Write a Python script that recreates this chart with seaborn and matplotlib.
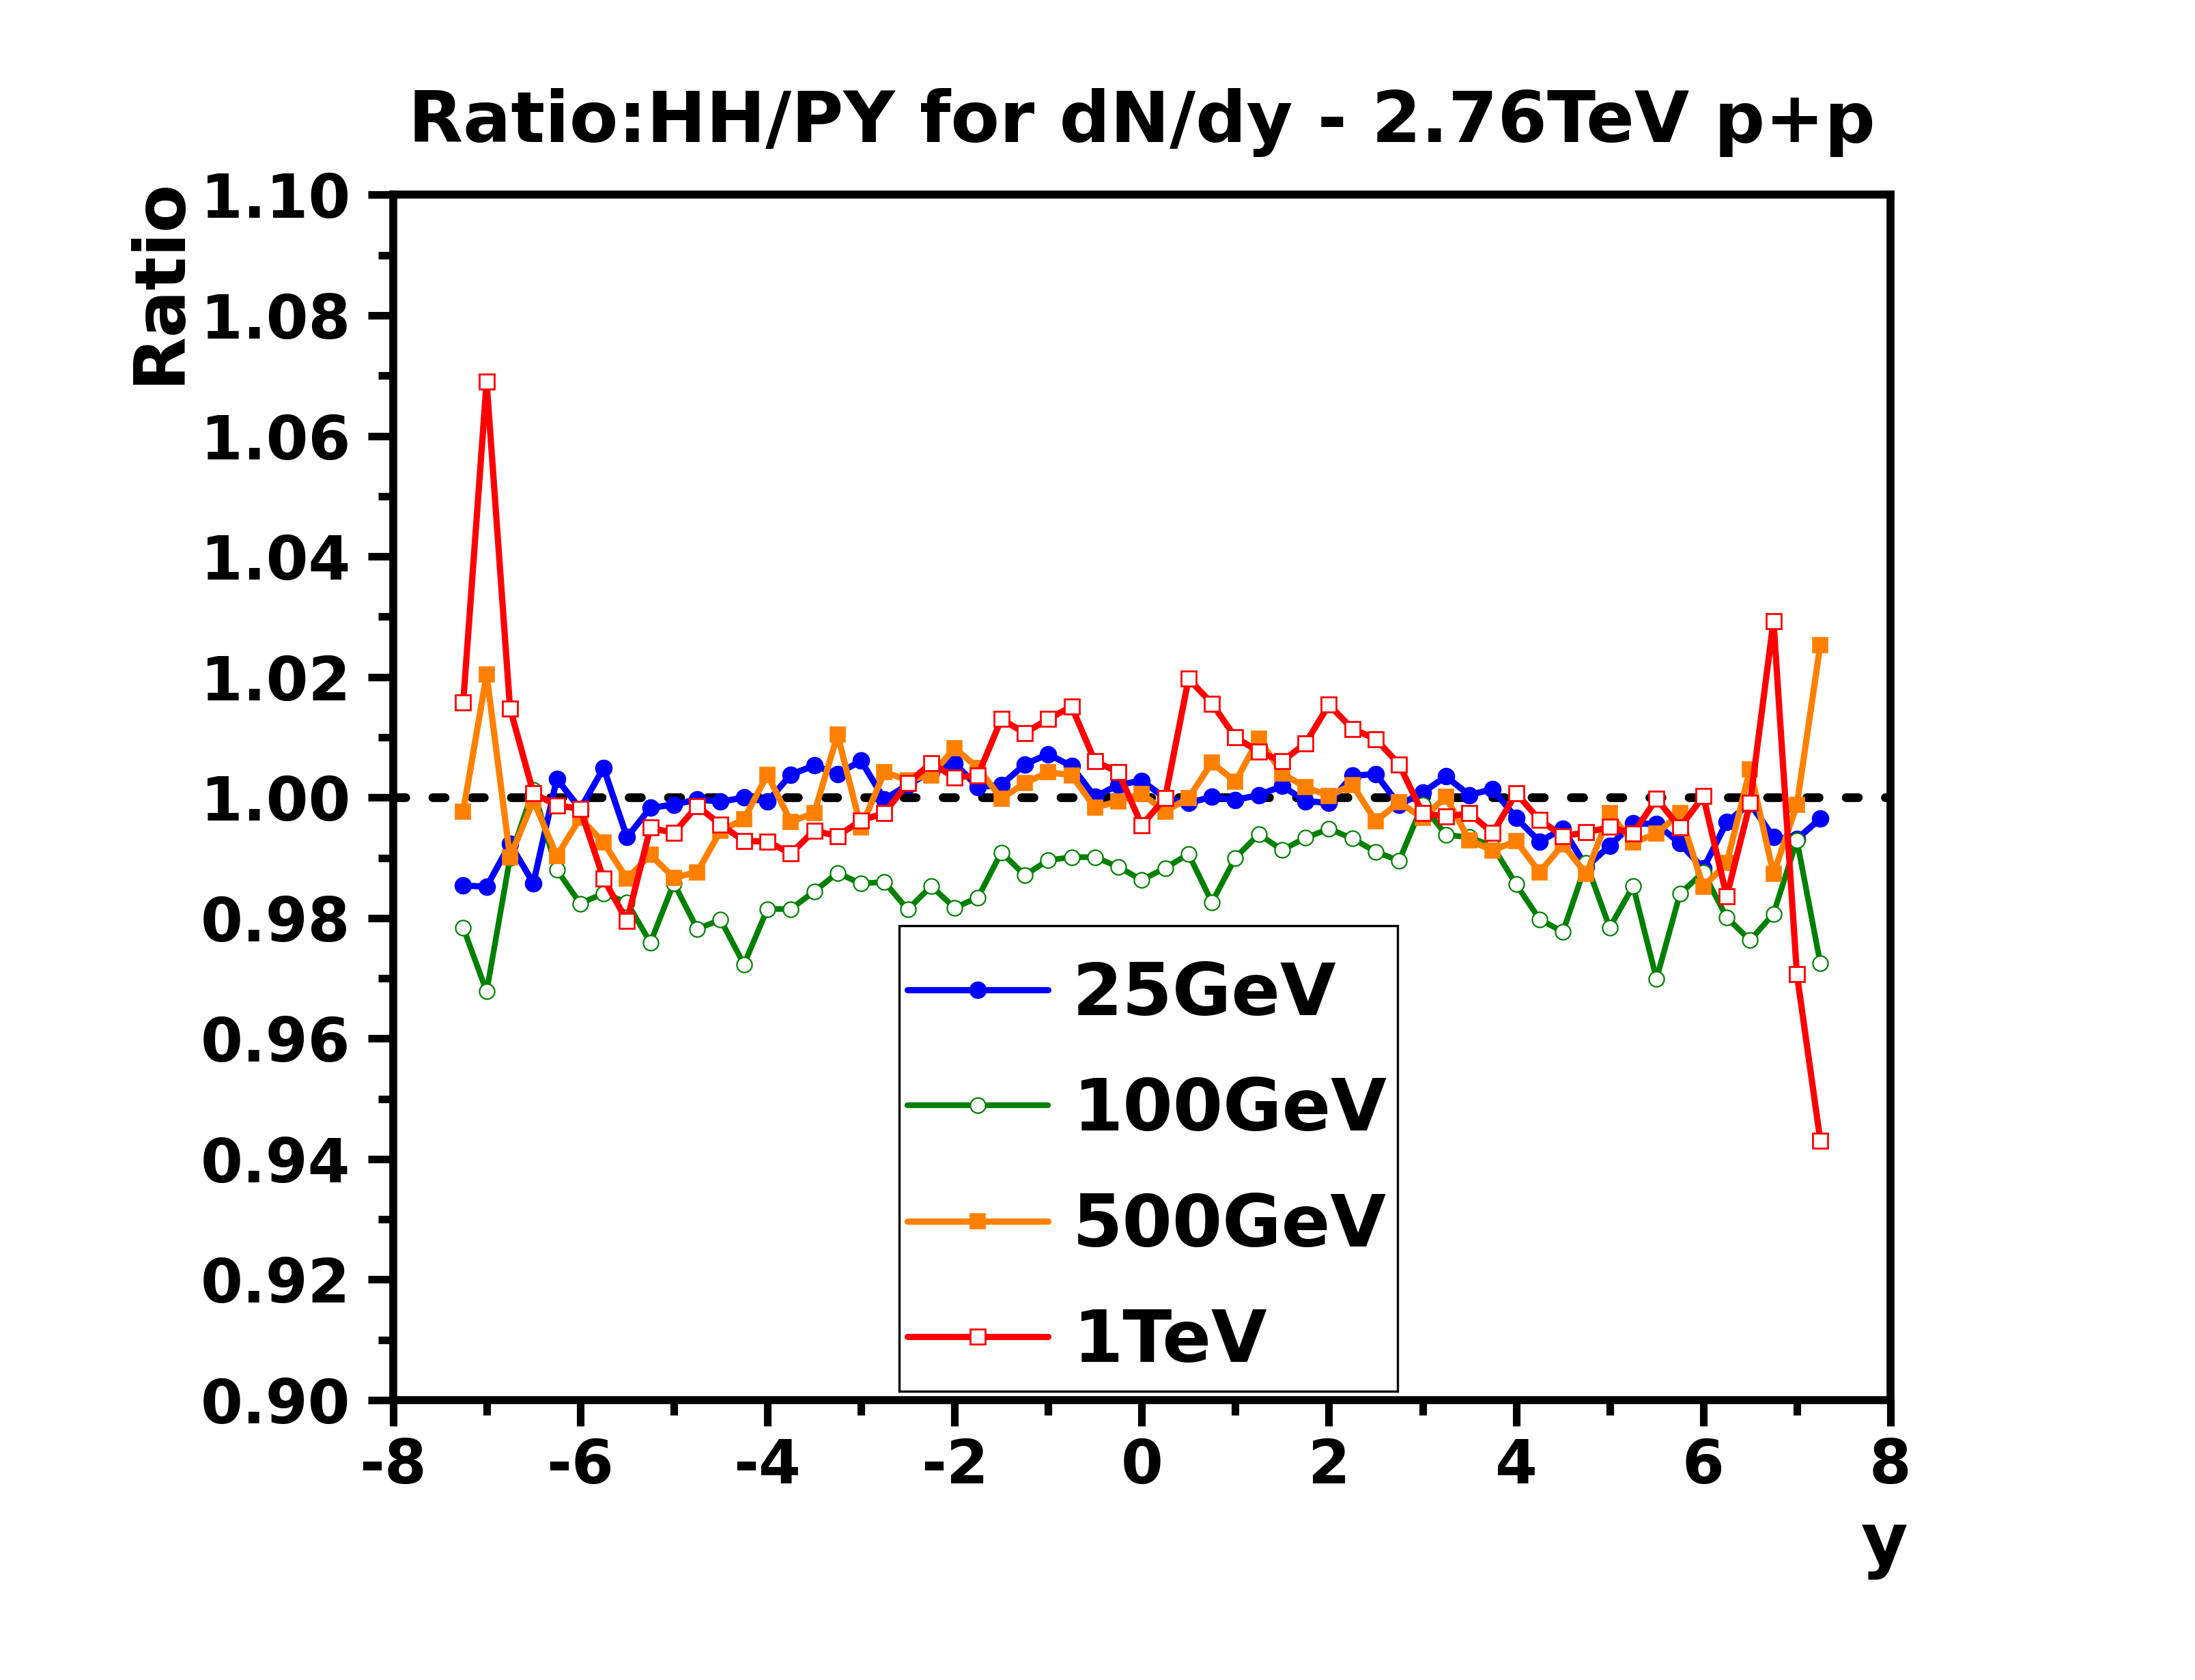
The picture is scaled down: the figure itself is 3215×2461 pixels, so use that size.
import numpy as np
import pandas as pd
import matplotlib
matplotlib.use("Agg")
import matplotlib.pyplot as plt
import seaborn as sns
from matplotlib.ticker import MultipleLocator
from matplotlib.patches import Rectangle

# rapidity bins
rapidity = [-7.25, -7.0, -6.75, -6.5, -6.25, -6.0, -5.75, -5.5, -5.25, -5.0,
            -4.75, -4.5, -4.25, -4.0, -3.75, -3.5, -3.25, -3.0, -2.75, -2.5,
            -2.25, -2.0, -1.75, -1.5, -1.25, -1.0, -0.75, -0.5, -0.25, 0.0,
            0.25, 0.5, 0.75, 1.0, 1.25, 1.5, 1.75, 2.0, 2.25, 2.5,
            2.75, 3.0, 3.25, 3.5, 3.75, 4.0, 4.25, 4.5, 4.75, 5.0,
            5.25, 5.5, 5.75, 6.0, 6.25, 6.5, 6.75, 7.0, 7.25]

ratio_25gev = [0.9854, 0.9852, 0.9923, 0.9858, 1.0031, 0.9981, 1.0049, 0.9934, 0.9983, 0.9988,
               0.9997, 0.9993, 1.0000, 0.9993, 1.0038, 1.0053, 1.0039, 1.0061, 0.9997, 1.0021,
               1.0042, 1.0057, 1.0017, 1.0021, 1.0055, 1.0072, 1.0052, 1.0001, 1.0021, 1.0028,
               0.9999, 0.9991, 1.0001, 0.9996, 1.0004, 1.0019, 0.9994, 0.9991, 1.0036, 1.0039,
               0.9988, 1.0008, 1.0035, 1.0004, 1.0014, 0.9966, 0.9927, 0.9948, 0.9885, 0.9920,
               0.9957, 0.9956, 0.9924, 0.9882, 0.9959, 0.9990, 0.9934, 0.9931, 0.9965]

ratio_100gev = [0.9784, 0.9678, 0.9900, 1.0013, 0.9880, 0.9824, 0.9841, 0.9826, 0.9759, 0.9858,
                0.9782, 0.9797, 0.9723, 0.9815, 0.9815, 0.9844, 0.9875, 0.9857, 0.9860, 0.9814,
                0.9853, 0.9817, 0.9834, 0.9909, 0.9871, 0.9896, 0.9901, 0.9901, 0.9885, 0.9863,
                0.9883, 0.9906, 0.9826, 0.9900, 0.9939, 0.9913, 0.9933, 0.9948, 0.9932, 0.9910,
                0.9895, 0.9988, 0.9938, 0.9934, 0.9919, 0.9856, 0.9798, 0.9777, 0.9891, 0.9784,
                0.9853, 0.9699, 0.9840, 0.9876, 0.9801, 0.9763, 0.9807, 0.9929, 0.9725]

ratio_500gev = [0.9977, 1.0204, 0.9901, 0.9995, 0.9903, 0.9966, 0.9925, 0.9865, 0.9905, 0.9867,
                0.9876, 0.9945, 0.9964, 1.0038, 0.9960, 0.9974, 1.0104, 0.9950, 1.0042, 1.0029,
                1.0037, 1.0082, 1.0049, 0.9998, 1.0024, 1.0042, 1.0037, 0.9983, 0.9994, 1.0006,
                0.9977, 0.9999, 1.0058, 1.0026, 1.0098, 1.0040, 1.0017, 1.0003, 1.0021, 0.9961,
                0.9992, 0.9966, 1.0001, 0.9929, 0.9912, 0.9928, 0.9876, 0.9922, 0.9873, 0.9974,
                0.9925, 0.9940, 0.9974, 0.9852, 0.9891, 1.0047, 0.9873, 0.9988, 1.0253]

ratio_1tev = [1.0158, 1.0690, 1.0148, 1.0007, 0.9987, 0.9981, 0.9865, 0.9795, 0.9950, 0.9941,
              0.9986, 0.9955, 0.9928, 0.9927, 0.9907, 0.9945, 0.9936, 0.9962, 0.9974, 1.0024,
              1.0057, 1.0033, 1.0037, 1.0130, 1.0107, 1.0130, 1.0151, 1.0060, 1.0042, 0.9954,
              0.9999, 1.0197, 1.0156, 1.0100, 1.0076, 1.0060, 1.0090, 1.0154, 1.0114, 1.0097,
              1.0055, 0.9974, 0.9968, 0.9974, 0.9941, 1.0007, 0.9963, 0.9936, 0.9942, 0.9951,
              0.9940, 0.9998, 0.9950, 1.0002, 0.9836, 0.9991, 1.0293, 0.9707, 0.9431]

df = pd.DataFrame({
    "y": rapidity,
    "25GeV": ratio_25gev,
    "100GeV": ratio_100gev,
    "500GeV": ratio_500gev,
    "1TeV": ratio_1tev,
})

sns.set_style("white")
plt.rcParams["font.family"] = ["DejaVu Sans"]
plt.rcParams["font.weight"] = "bold"
plt.rcParams["axes.unicode_minus"] = False
plt.rcParams["text.color"] = "black"
plt.rcParams["axes.labelcolor"] = "black"
plt.rcParams["xtick.color"] = "black"
plt.rcParams["ytick.color"] = "black"

fig = plt.figure(figsize=(16.08, 12.305), dpi=200)
ax = fig.add_axes([0.179, 0.1666, 0.682, 0.7174])

# reference line at ratio = 1
ax.axhline(1.0, color="black", lw=4.6, dashes=(1.4, 3.1),
           dash_capstyle="round", zorder=1)

# style per series
styles = {
    "25GeV":  dict(color="#0000FF", marker="o", face="#0000FF", ms=8.6, mew=0.6, lw=3.3),
    "100GeV": dict(color="#008000", marker="o", face="white",   ms=8.0, mew=0.8, lw=3.0),
    "500GeV": dict(color="#FF8000", marker="s", face="#FF8000", ms=7.8, mew=0.6, lw=3.3),
    "1TeV":   dict(color="#FF0000", marker="s", face="white",   ms=7.8, mew=1.0, lw=3.3),
}

for i, (name, st) in enumerate(styles.items()):
    sns.lineplot(data=df, x="y", y=name, ax=ax, label=name, estimator=None,
                 color=st["color"], marker=st["marker"],
                 markerfacecolor=st["face"], markeredgecolor=st["color"],
                 markersize=st["ms"], markeredgewidth=st["mew"], zorder=2 + i)
    line = ax.lines[-1]
    line.set_linewidth(st["lw"])

ax.set_xlim(-8, 8)
ax.set_ylim(0.90, 1.10)
ax.xaxis.set_major_locator(MultipleLocator(2))
ax.xaxis.set_minor_locator(MultipleLocator(1))
ax.yaxis.set_major_locator(MultipleLocator(0.02))
ax.yaxis.set_minor_locator(MultipleLocator(0.01))
ax.yaxis.set_major_formatter(plt.FormatStrFormatter("%.2f"))

for side in ["left", "right", "top", "bottom"]:
    ax.spines[side].set_linewidth(4.2)
    ax.spines[side].set_color("black")

ax.tick_params(axis="both", which="both", direction="out", color="black",
               labelcolor="black", top=False, right=False, left=True,
               bottom=True, width=4.0)
ax.tick_params(axis="both", which="major", length=13.5, labelsize=32)
ax.tick_params(axis="both", which="minor", length=8)
ax.tick_params(axis="y", which="major", pad=9)
ax.tick_params(axis="x", which="major", pad=6)
for lab in ax.get_xticklabels() + ax.get_yticklabels():
    lab.set_fontweight("bold")

ax.set_title("Ratio:HH/PY for dN/dy - 2.76TeV p+p", fontsize=37.5,
             fontweight="bold", pad=28, color="black")

ax.set_ylabel("Ratio", fontsize=37, fontweight="bold")
ax.yaxis.set_label_coords(-0.1557, 1.0147)
ax.yaxis.label.set_ha("right")
ax.yaxis.label.set_va("center")

ax.set_xlabel("y", fontsize=38, fontweight="bold")
ax.xaxis.set_label_coords(0.996, -0.091)

# legend frame drawn as its own box, entries placed inside it
frame = Rectangle((0.338, 0.0074), 0.333, 0.386, transform=ax.transAxes,
                  facecolor="white", edgecolor="black", lw=1.2, zorder=8)
ax.add_patch(frame)

leg = ax.legend(loc="upper left", bbox_to_anchor=(0.3434, 0.3650),
                borderaxespad=0, borderpad=0, fontsize=38, frameon=False,
                handlelength=1.95, handletextpad=0.34, labelspacing=0.64,
                numpoints=1)
leg.set_zorder(10)
for t in leg.get_texts():
    t.set_fontweight("bold")
    t.set_color("black")

fig.savefig("out.png", dpi=200, facecolor="white")
